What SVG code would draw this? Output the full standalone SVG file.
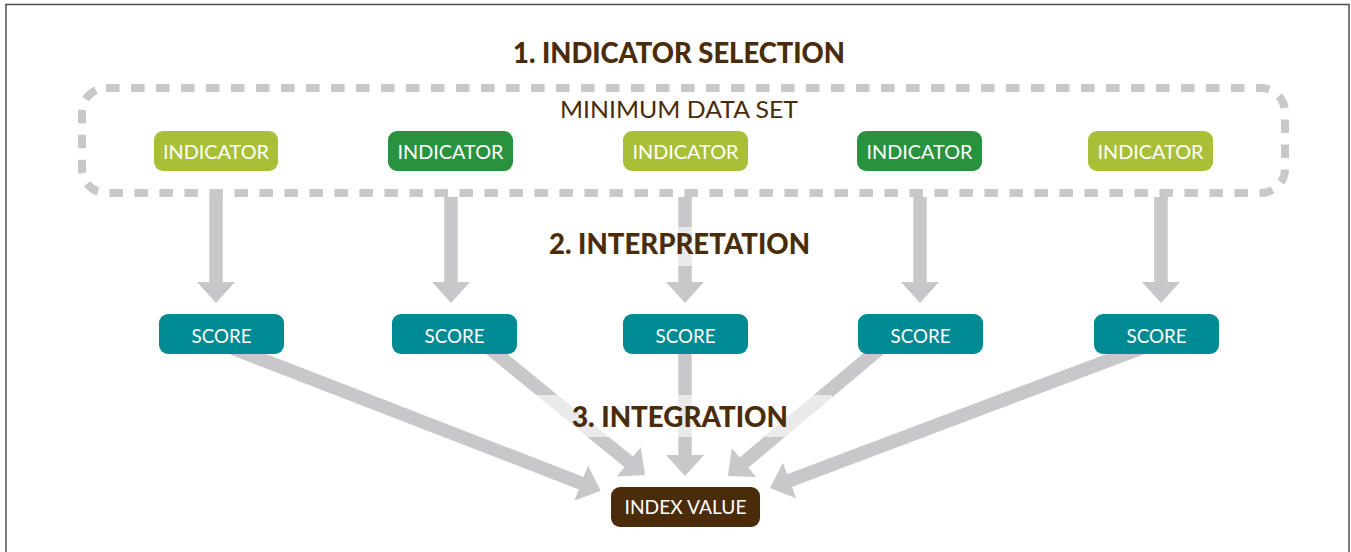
<svg xmlns="http://www.w3.org/2000/svg" width="1351" height="552" viewBox="0 0 1351 552">
<defs>
<style>
.frame{fill:none;stroke:#4d4d4d;stroke-width:1.5}
.mds{fill:none;stroke:#c8c8ca;stroke-width:8;stroke-dasharray:13.5 11.5;stroke-linejoin:round}
.conn{stroke:#c8c8ca;stroke-width:13.5;fill:none;marker-end:url(#head)}
.band{fill:#ffffff;fill-opacity:0.62}
.h{font-family:Lato,"Liberation Sans",sans-serif;font-weight:900;font-size:28px;fill:#4b2c0a;text-anchor:middle}
.sub{font-family:Lato,"Liberation Sans",sans-serif;font-size:23px;fill:#4b2c0a;text-anchor:middle}
.lbl{font-family:Lato,"Liberation Sans",sans-serif;font-size:19.5px;fill:#ffffff;text-anchor:middle}
.ind1{fill:#a9bf38}
.ind2{fill:#29923e}
.score{fill:#008a93}
.index{fill:#4b2c0a}
</style>
<marker id="head" markerUnits="userSpaceOnUse" markerWidth="22" markerHeight="40" refX="1" refY="19" orient="auto" viewBox="0 0 22 40">
<path d="M0,0 L21,19 L0,38 Z" fill="#c8c8ca"/>
</marker>
</defs>
<rect x="0" y="0" width="1351" height="552" fill="#ffffff"/>
<path class="frame" d="M6,552 V4.5 H1349 V552"/>

<g id="minimum-data-set">
<rect class="mds" x="82" y="88" width="1203" height="105" rx="24" ry="24"/>
<text class="sub" x="679" y="118" textLength="238" lengthAdjust="spacingAndGlyphs">MINIMUM DATA SET</text>
</g>

<g id="connectors">
<line class="conn" x1="216" y1="197" x2="216" y2="283"/>
<line class="conn" x1="451" y1="197" x2="451" y2="283"/>
<line class="conn" x1="685" y1="197" x2="685" y2="283"/>
<line class="conn" x1="920" y1="197" x2="920" y2="283"/>
<line class="conn" x1="1161" y1="197" x2="1161" y2="283"/>
<line class="conn" x1="211.2" y1="340" x2="582" y2="483.5"/>
<line class="conn" x1="479.6" y1="340" x2="629.5" y2="462.4"/>
<line class="conn" x1="685" y1="340" x2="685" y2="456"/>
<line class="conn" x1="889.8" y1="340" x2="743.3" y2="463.1"/>
<line class="conn" x1="1163" y1="340" x2="788.7" y2="480.9"/>
</g>

<g id="stage-labels">
<text class="h" x="679" y="63" textLength="332" lengthAdjust="spacingAndGlyphs">1. INDICATOR SELECTION</text>
<rect class="band" x="540" y="227" width="280" height="39"/>
<text class="h" x="679.5" y="254" textLength="261" lengthAdjust="spacingAndGlyphs">2. INTERPRETATION</text>
<rect class="band" x="537" y="395" width="295" height="42"/>
<text class="h" x="680" y="427" textLength="216" lengthAdjust="spacingAndGlyphs">3. INTEGRATION</text>
</g>

<g id="indicator-1"><rect class="ind1" x="154" y="131" width="124" height="40" rx="9"/><text class="lbl" x="216" y="159" textLength="106" lengthAdjust="spacingAndGlyphs">INDICATOR</text></g>
<g id="indicator-2"><rect class="ind2" x="388" y="131" width="125" height="40" rx="9"/><text class="lbl" x="450.5" y="159" textLength="106" lengthAdjust="spacingAndGlyphs">INDICATOR</text></g>
<g id="indicator-3"><rect class="ind1" x="623" y="131" width="125" height="40" rx="9"/><text class="lbl" x="685.5" y="159" textLength="106" lengthAdjust="spacingAndGlyphs">INDICATOR</text></g>
<g id="indicator-4"><rect class="ind2" x="857" y="131" width="125" height="40" rx="9"/><text class="lbl" x="919.5" y="159" textLength="106" lengthAdjust="spacingAndGlyphs">INDICATOR</text></g>
<g id="indicator-5"><rect class="ind1" x="1088" y="131" width="125" height="40" rx="9"/><text class="lbl" x="1150.5" y="159" textLength="106" lengthAdjust="spacingAndGlyphs">INDICATOR</text></g>

<g id="score-1"><rect class="score" x="159" y="314" width="125" height="40" rx="9"/><text class="lbl" x="221.5" y="343" textLength="60" lengthAdjust="spacingAndGlyphs">SCORE</text></g>
<g id="score-2"><rect class="score" x="392" y="314" width="125" height="40" rx="9"/><text class="lbl" x="454.5" y="343" textLength="60" lengthAdjust="spacingAndGlyphs">SCORE</text></g>
<g id="score-3"><rect class="score" x="623" y="314" width="125" height="40" rx="9"/><text class="lbl" x="685.5" y="343" textLength="60" lengthAdjust="spacingAndGlyphs">SCORE</text></g>
<g id="score-4"><rect class="score" x="858" y="314" width="125" height="40" rx="9"/><text class="lbl" x="920.5" y="343" textLength="60" lengthAdjust="spacingAndGlyphs">SCORE</text></g>
<g id="score-5"><rect class="score" x="1094" y="314" width="125" height="40" rx="9"/><text class="lbl" x="1156.5" y="343" textLength="60" lengthAdjust="spacingAndGlyphs">SCORE</text></g>

<g id="index-value"><rect class="index" x="611" y="487" width="149" height="40" rx="9"/><text class="lbl" x="685.5" y="514" textLength="122" lengthAdjust="spacingAndGlyphs">INDEX VALUE</text></g>
</svg>
